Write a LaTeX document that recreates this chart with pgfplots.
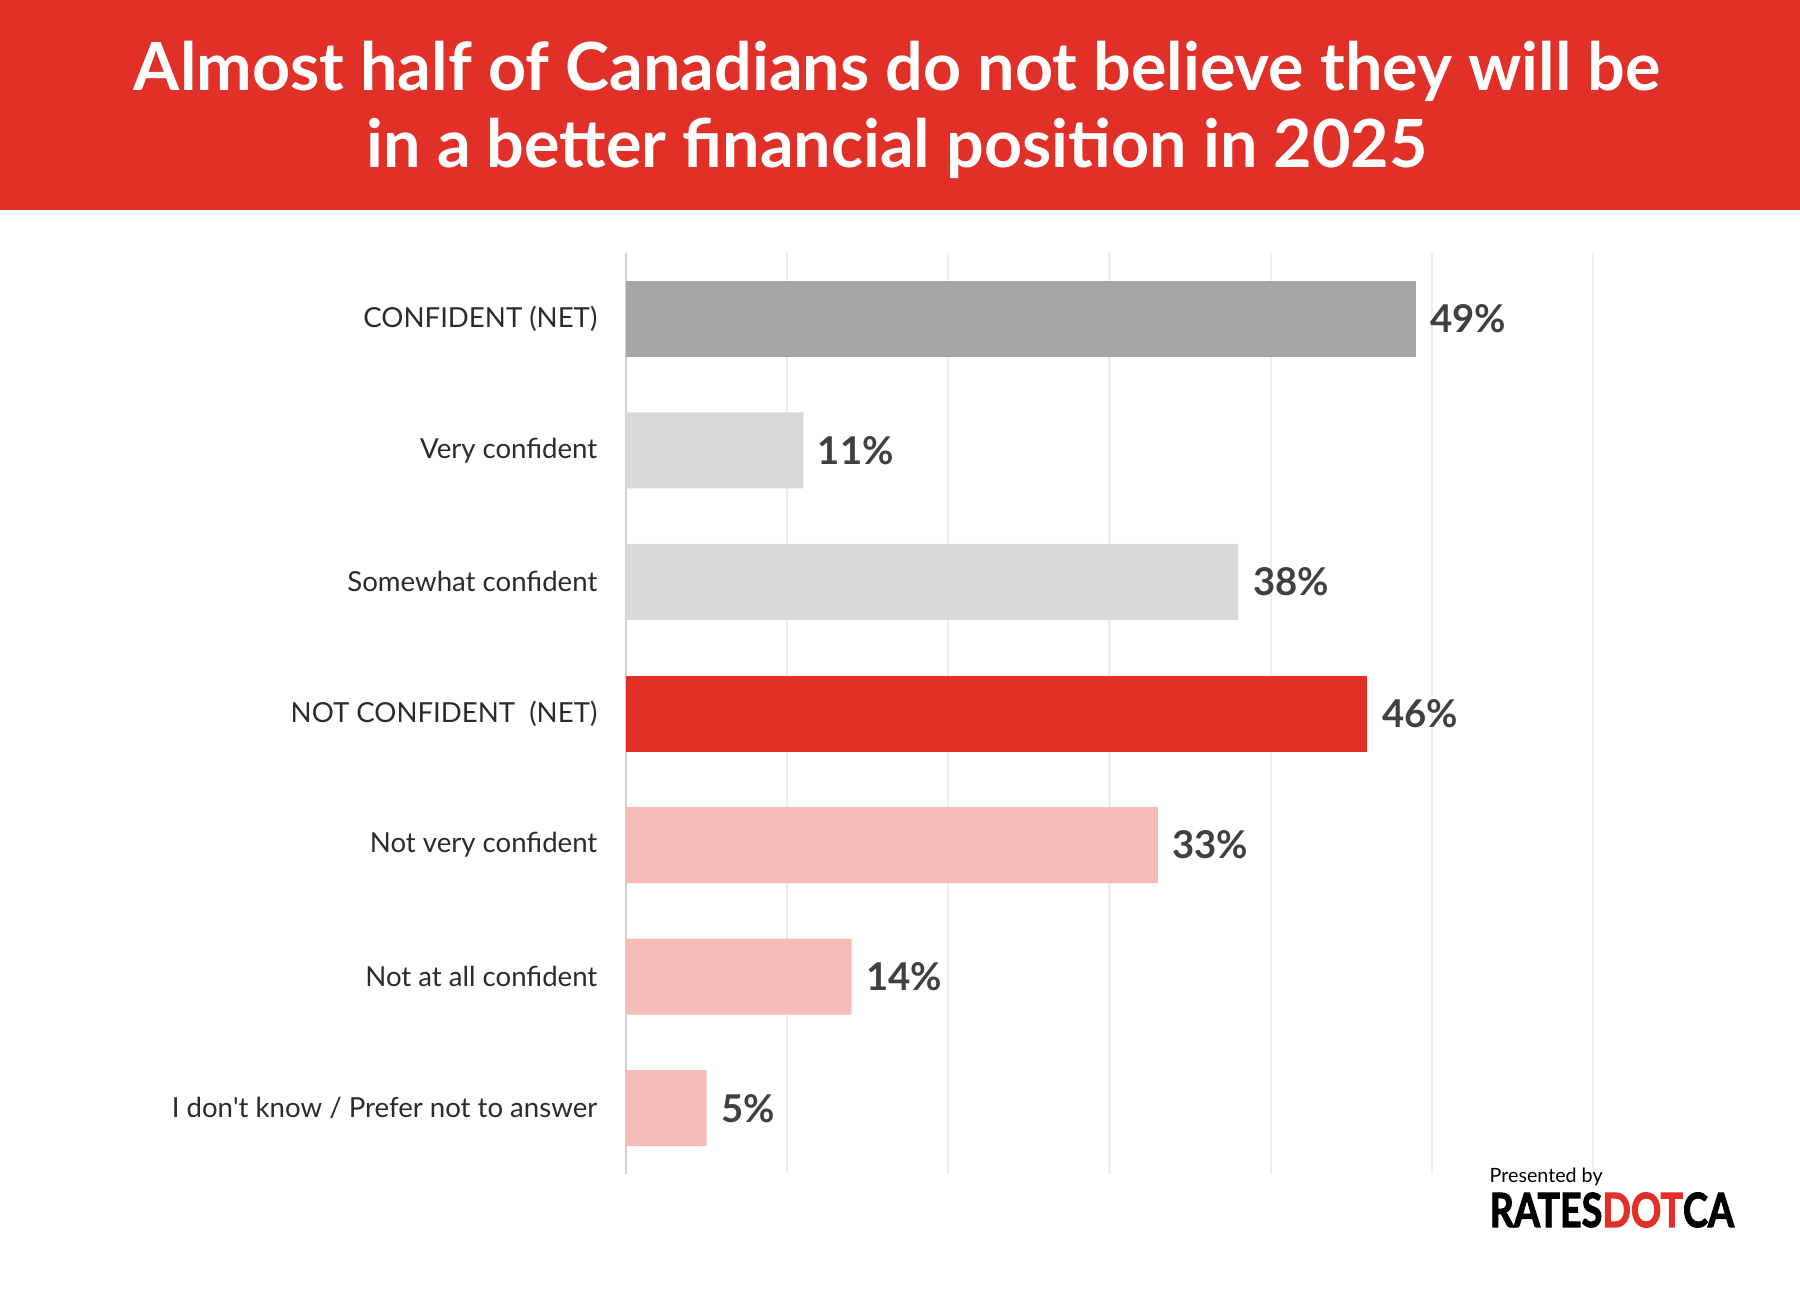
\documentclass[border=0pt]{standalone}
\usepackage{pgfplots}
\pgfplotsset{compat=1.18}
\usepackage{fontspec}
\setmainfont{Lato}
\newfontfamily\heavy{Lato}[BoldFeatures={FakeBold=2.5}]
\definecolor{rred}{HTML}{E03027}
\definecolor{gbar}{HTML}{A6A6A6}
\definecolor{lgbar}{HTML}{D9D9D9}
\definecolor{pbar}{HTML}{F6BCB8}
\definecolor{gridc}{HTML}{EEEEEE}
\definecolor{txt}{HTML}{2B2B2B}
\definecolor{val}{HTML}{404040}
\begin{document}
\begin{tikzpicture}[x=1cm,y=1cm]
\useasboundingbox (0,0) rectangle (18,12.99);
\fill[white] (0,0) rectangle (18,12.99);
\fill[rred] (0,10.89) rectangle (18,12.99);
\node[align=center, text=white, font=\fontsize{18.9}{21.8}\selectfont\bfseries] at (8.97,11.89)
  {Almost half of Canadians do not believe they will be\\in a better financial position in 2025};
\begin{axis}[
  at={(6.26cm,1.25cm)}, anchor=south west,
  scale only axis, width=9.67cm, height=9.21cm,
  xbar, bar width=0.76cm, bar shift=0pt,
  xmin=0, xmax=60, ymin=-0.5, ymax=6.5, y dir=reverse,
  xtick={10,20,30,40,50,60}, xticklabels={},
  xmajorgrids, grid style={color=gridc, line width=0.6pt},
  extra x ticks={0}, extra x tick labels={},
  extra x tick style={grid style={color=black!18, line width=0.8pt}},
  ytick={0,1,2,3,4,5,6},
  yticklabels={CONFIDENT (NET), Very confident, Somewhat confident, NOT CONFIDENT\ \ (NET), Not very confident, Not at all confident, I don\textquotesingle t know / Prefer not to answer},
  yticklabel style={anchor=east, inner sep=0pt, xshift=-0.13cm, text=txt, font=\fontsize{7.85}{9.5}\selectfont},
  axis line style={draw=none}, tick style={draw=none},
  /pgf/number format/assume math mode=true,
  nodes near coords={\pgfmathprintnumber{\pgfplotspointmeta}\%},
  nodes near coords style={anchor=west, inner sep=0pt, xshift=0.14cm, text=val, font=\fontsize{10.9}{12}\selectfont\bfseries},
  point meta=x,
]
\addplot[fill=gbar, draw=none] coordinates {(49,0)};
\addplot[fill=lgbar, draw=none] coordinates {(11,1) (38,2)};
\addplot[fill=rred, draw=none] coordinates {(46,3)};
\addplot[fill=pbar, draw=none] coordinates {(33,4) (14,5) (5,6)};
\end{axis}
\node[anchor=base west, inner sep=0pt, font=\fontsize{5.6}{7}\selectfont, text=black] at (14.89,1.16) {Presented by};
\node[anchor=base west, inner sep=0pt] at (14.89,0.72) {\scalebox{1.04}[1.3]{\fontsize{10.3}{12}\selectfont\heavy\bfseries RATES\textcolor{rred}{DOT}CA}};
\end{tikzpicture}
\end{document}
